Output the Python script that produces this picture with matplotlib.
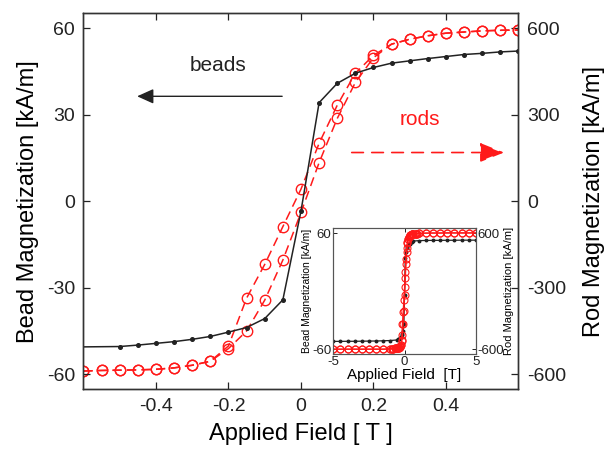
import numpy as np
import matplotlib
matplotlib.use("Agg")
import matplotlib.pyplot as plt
from matplotlib.patches import FancyArrowPatch

plt.rcParams['font.family'] = ['Liberation Sans', 'DejaVu Sans']

# bead magnetization [kA/m] vs applied field [T]
bead_field = [-1.0, -0.5, -0.45, -0.4, -0.35, -0.3, -0.25, -0.2, -0.15, -0.1, -0.05, 0.0,
              0.05, 0.1, 0.15, 0.2, 0.25, 0.3, 0.35, 0.4, 0.45, 0.5, 0.55, 0.6]
bead_mag = [-51.0, -50.4, -49.9, -49.3, -48.7, -47.9, -46.9, -45.4, -43.8, -40.7, -34.2, -3.4,
            34.2, 40.9, 44.4, 46.4, 47.9, 48.7, 49.5, 50.2, 50.9, 51.3, 51.8, 52.1]

# rod magnetization [kA/m], two branches of the loop
rod_field = [-0.6, -0.55, -0.5, -0.45, -0.4, -0.35, -0.3, -0.25, -0.2, -0.15, -0.1, -0.05, 0.0,
             0.05, 0.1, 0.15, 0.2, 0.25, 0.3, 0.35, 0.4, 0.45, 0.5, 0.55, 0.6]
rod_up = [-589, -587, -586, -585, -583, -578, -569, -555, -511, -450, -343, -204, -39,
          134, 287, 412, 498, 545, 562, 574, 583, 587, 591, 593, 594]
rod_down = [-589, -587, -586, -585, -583, -578, -569, -555, -502, -336, -219, -88, 42,
            201, 333, 444, 506, 545, 562, 574, 583, 587, 591, 593, 594]

# wide field range (inset only)
bead_far_neg_x = [-5, -4.5, -4, -3.5, -3, -2.5, -2, -1.5]
bead_far_neg = [-51.9, -51.9, -51.8, -51.8, -51.7, -51.6, -51.5, -51.3]
bead_far_pos_x = [1.0, 1.5, 2, 2.5, 3, 3.5, 4, 4.5, 5]
bead_far_pos = [52.5, 52.7, 52.8, 52.8, 52.9, 52.9, 53.0, 53.0, 53.0]
rod_far_neg_x = [-5, -4.5, -4, -3.5, -3, -2.5, -2, -1.5, -1.0, -0.9, -0.8, -0.7]
rod_far_neg = [-600, -600, -600, -600, -600, -600, -600, -600, -597, -595, -593, -591]
rod_far_pos_x = [0.7, 0.8, 0.9, 1.0, 1.5, 2, 2.5, 3, 3.5, 4, 4.5, 5]
rod_far_pos = [596, 598, 599, 600, 603, 604, 604, 605, 605, 605, 605, 605]

RED = '#ff1a1a'
DARK = '#222222'

fig = plt.figure(figsize=(6.05, 4.51), dpi=100)
ax = fig.add_axes([0.138, 0.1364, 0.719, 0.8348])
ax2 = ax.twinx()

ax2.plot(rod_field, rod_up, color=RED, lw=1.1, dashes=(6, 3.5), marker='o', ms=7.5,
         mfc='none', mec=RED, mew=1.0)
ax2.plot(rod_field, rod_down, color=RED, lw=1.1, dashes=(6, 3.5), marker='o', ms=7.5,
         mfc='none', mec=RED, mew=1.0)
ax.plot(bead_field, bead_mag, color=DARK, lw=1.1, marker='o', ms=2.6)

ax.set_zorder(ax2.get_zorder() + 1)
ax.patch.set_visible(False)

ax.set_xlim(-0.6, 0.6)
ax.set_ylim(-65.3, 65.3)
ax2.set_ylim(-653, 653)
ax.set_xticks([-0.4, -0.2, 0, 0.2, 0.4])
ax.set_xticklabels(['-0.4', '-0.2', '0', '0.2', '0.4'])
ax.set_yticks([-60, -30, 0, 30, 60])
ax.set_yticklabels(['-60', '-30', '0', '30', '60'])
ax2.set_yticks([-600, -300, 0, 300, 600])
ax2.set_yticklabels(['-600', '-300', '0', '300', '600'])

ax.tick_params(direction='in', length=5, width=0.9, labelsize=14, top=True, pad=6,
               colors=DARK)
ax2.tick_params(direction='in', length=5, width=0.9, labelsize=14, pad=6, colors=DARK)
for a in (ax, ax2):
    for s in a.spines.values():
        s.set_color('#333333')
        s.set_linewidth(1.0)

ax.set_xlabel('Applied Field [ T ]', fontsize=17, labelpad=6)
ax.set_ylabel('Bead Magnetization [kA/m]', fontsize=17, labelpad=6)
ax2.set_ylabel('Rod Magnetization [kA/m]', fontsize=17, labelpad=12)

ax.text(-0.23, 47.2, 'beads', fontsize=15, ha='center', va='center', color=DARK)
ax.text(0.328, 28.2, 'rods', fontsize=15, ha='center', va='center', color=RED)
ax.add_patch(FancyArrowPatch((-0.052, 36.4), (-0.452, 36.4),
                             arrowstyle='-|>,head_length=1.0,head_width=0.45',
                             mutation_scale=10, color=DARK, lw=1.0, shrinkA=0, shrinkB=0))
ax.add_patch(FancyArrowPatch((0.14, 16.9), (0.56, 16.9),
                             arrowstyle='-|>,head_length=1.5,head_width=0.6',
                             mutation_scale=10, color=RED, lw=1.2, linestyle=(0, (7, 5)),
                             shrinkA=0, shrinkB=0))

# inset: full field range
ins = fig.add_axes([0.551, 0.2144, 0.2354, 0.2794])
ins.set_zorder(5)
ins2 = ins.twinx()
ins2.set_zorder(6)

bx = bead_far_neg_x + bead_field + bead_far_pos_x
by = bead_far_neg + bead_mag + bead_far_pos
ins.plot(bx, by, color=DARK, lw=0.9, marker='o', ms=1.8)
for branch in (rod_up, rod_down):
    rx = rod_far_neg_x + rod_field + rod_far_pos_x
    ry = rod_far_neg + branch + rod_far_pos
    ins2.plot(rx, ry, color=RED, lw=0.9, marker='o', ms=5, mfc='none', mec=RED, mew=0.8)

ins.set_xlim(-5, 5)
ins.set_ylim(-65.3, 65.3)
ins2.set_ylim(-653, 653)
ins.set_xticks([-5, 0, 5])
ins.set_xticklabels(['-5', '0', '5'])
ins.set_yticks([-60, 60])
ins.set_yticklabels(['-60', '60'])
ins2.set_yticks([-600, 600])
ins2.set_yticklabels(['-600', '600'])
ins.tick_params(direction='in', length=3, width=0.7, labelsize=9.5, top=True, pad=1.5,
                colors=DARK)
ins2.tick_params(direction='in', length=3, width=0.7, labelsize=9.5, pad=1.5, colors=DARK)
for a in (ins, ins2):
    for s in a.spines.values():
        s.set_color('#555555')
        s.set_linewidth(0.8)
ins.set_xlabel('Applied Field  [T]', fontsize=11, labelpad=0)
ins.set_ylabel('Bead Magnetization [kA/m]', fontsize=7.5, labelpad=0)
ins2.set_ylabel('Rod Magnetization [kA/m]', fontsize=8, labelpad=0)

fig.savefig('out.png', dpi=100)
